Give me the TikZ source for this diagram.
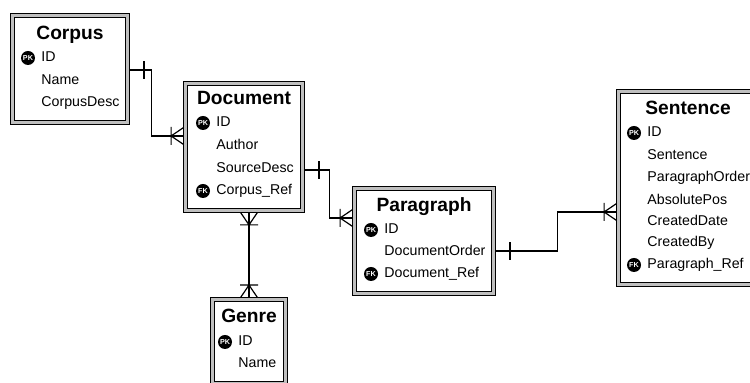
\documentclass[tikz,border=0pt]{standalone}
\usepackage{fontspec}
\setmainfont{Liberation Sans}
\usetikzlibrary{backgrounds}

\begin{document}
\begin{tikzpicture}[
  x=0.5pt,
  y=-0.5pt,
  entity/.style={draw=black,line width=0.4pt,double=gray!50,double distance=1.6pt,fill=white,inner sep=0pt},
  title/.style={font=\fontsize{9.6}{10}\selectfont\bfseries,inner sep=0pt,text height=7pt,text depth=2pt},
  field/.style={font=\fontsize{7.1}{8}\selectfont,anchor=west,inner sep=0pt,text height=5.2pt,text depth=1.5pt},
  keyicon/.style={circle,fill=black,text=white,inner sep=0pt,minimum size=7pt,font=\fontsize{3.6}{3.6}\selectfont\bfseries},
  rel/.style={draw=black,line width=0.6pt},
  one/.pic={\draw[rel] (-16,-9) -- (-16,9);},
  many/.pic={\draw[rel] (-14,-9) -- (-14,9) (-14,0) -- (0,-9.5) (-14,0) -- (0,9.5);}
]
  % 1 unit = 1 px of the 750 x 383 frame, y runs downwards
  \useasboundingbox (0,0) rectangle (750,383);
  \clip (0,0) rectangle (750,383);

  % Entity boxes.
  \node[entity,minimum width=57.5pt,minimum height=53.5pt] (corpus) at (70,69) {};
  \node[entity,minimum width=58.5pt,minimum height=63.5pt] (document) at (244,147) {};
  \node[entity,minimum width=69.5pt,minimum height=52.5pt] (paragraph) at (424,241) {};
  \node[entity,minimum width=69.5pt,minimum height=96.5pt] (sentence) at (688,188) {};
  \node[entity,minimum width=36.5pt,minimum height=42pt] (genre) at (249,341.5) {};

  % Table names.
  \node[title] (corpus-title) at (corpus.north |- 0,35) {Corpus};
  \node[title] (document-title) at (document.north |- 0,100) {Document};
  \node[title] (paragraph-title) at (paragraph.north |- 0,207) {Paragraph};
  \node[title] (sentence-title) at (sentence.north |- 0,110) {Sentence};
  \node[title] (genre-title) at (genre.north |- 0,318) {Genre};

  % Columns.
  \foreach \y/\f in {58/ID,81/Name,103/CorpusDesc}
    \node[field] (corpus-\y) at (41,\y) {\f};
  \foreach \y/\f in {123/ID,146/Author,169/SourceDesc,191/Corpus\_Ref}
    \node[field] (document-\y) at (216,\y) {\f};
  \foreach \y/\f in {230/ID,252/DocumentOrder,274/Document\_Ref}
    \node[field] (paragraph-\y) at (384,\y) {\f};
  \foreach \y/\f in {133/ID,156/Sentence,178/ParagraphOrder,201/AbsolutePos,222/CreatedDate,243/CreatedBy,265/Paragraph\_Ref}
    \node[field] (sentence-\y) at (647,\y) {\f};
  \foreach \y/\f in {342/ID,364/Name}
    \node[field] (genre-\y) at (238,\y) {\f};

  % Key markers in front of the key columns.
  \node[keyicon] (corpus-pk) at (28,58) {PK};
  \node[keyicon] (document-pk) at (203,123) {PK};
  \node[keyicon] (document-fk) at (203,191) {FK};
  \node[keyicon] (paragraph-pk) at (371,230) {PK};
  \node[keyicon] (paragraph-fk) at (371,274) {FK};
  \node[keyicon] (sentence-pk) at (634,133) {PK};
  \node[keyicon] (sentence-fk) at (634,265) {FK};
  \node[keyicon] (genre-pk) at (225,342) {PK};

  % Relationships, kept behind the boxes.
  \begin{scope}[on background layer]
    \draw[rel] (corpus.east |- 0,70) -- ++(23.5,0) |- (document.west |- 0,136);
    \pic[rotate=180] at (corpus.east |- 0,70) {one};
    \pic at (document.west |- 0,136) {many};

    \draw[rel] (document.east |- 0,170) -- ++(26.5,0) |- (paragraph.west |- 0,218);
    \pic[rotate=180] at (document.east |- 0,170) {one};
    \pic at (paragraph.west |- 0,218) {many};

    \draw[rel] (paragraph.east |- 0,251) -- ++(63.5,0) |- (sentence.west |- 0,212);
    \pic[rotate=180] at (paragraph.east |- 0,251) {one};
    \pic at (sentence.west |- 0,212) {many};

    \draw[rel] (genre.north |- document.south) -- (genre.north);
    \pic[rotate=90] at (genre.north |- document.south) {many};
    \pic[rotate=-90] at (genre.north) {many};
  \end{scope}
\end{tikzpicture}
\end{document}
